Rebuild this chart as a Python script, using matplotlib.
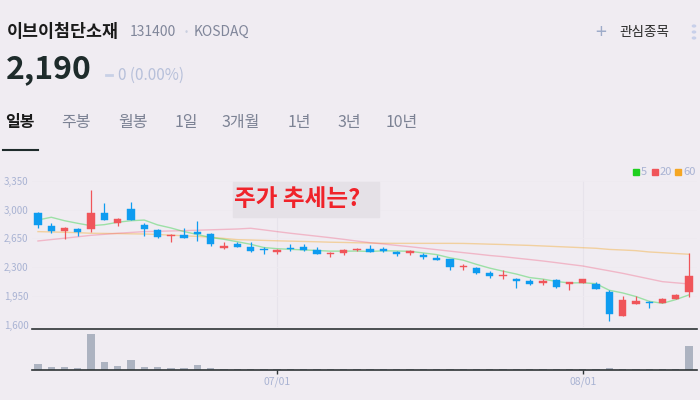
import matplotlib
matplotlib.use('Agg')
import matplotlib.pyplot as plt
from matplotlib.patches import Rectangle, Circle
from matplotlib.lines import Line2D

plt.rcParams['font.family'] = ['Noto Sans CJK KR', 'DejaVu Sans']

W, H = 700, 400
BG = '#f0ecf2'

# ---------------- data ----------------
opens = [2960, 2802, 2744, 2765, 2769, 2960, 2842, 3005, 2814, 2753,
         2680, 2692, 2725, 2704, 2530, 2582, 2542, 2518, 2489, 2533,
         2546, 2509, 2457, 2473, 2506, 2521, 2513, 2485, 2476, 2452,
         2412, 2396, 2302, 2290, 2229, 2189, 2160, 2135, 2103, 2144,
         2099, 2111, 2099, 1997, 1701, 1855, 1876, 1863, 1916, 2001]
highs = [2972, 2842, 2789, 2781, 3240, 3078, 2899, 3094, 2842, 2761,
         2704, 2774, 2859, 2712, 2603, 2607, 2603, 2542, 2521, 2582,
         2578, 2546, 2485, 2518, 2530, 2570, 2546, 2493, 2505, 2476,
         2445, 2403, 2342, 2298, 2250, 2269, 2168, 2160, 2156, 2152,
         2107, 2156, 2119, 2018, 1949, 1945, 1888, 1924, 1973, 2476]
lows = [2781, 2720, 2640, 2680, 2732, 2878, 2805, 2875, 2683, 2652,
        2607, 2652, 2623, 2562, 2521, 2542, 2489, 2460, 2457, 2501,
        2501, 2464, 2428, 2452, 2501, 2489, 2485, 2432, 2445, 2403,
        2383, 2269, 2262, 2217, 2172, 2160, 2042, 2083, 2083, 2050,
        2022, 2103, 2038, 1648, 1701, 1847, 1806, 1860, 1908, 1936]
closes = [2814, 2741, 2777, 2732, 2960, 2878, 2887, 2875, 2769, 2668,
          2692, 2659, 2704, 2582, 2558, 2549, 2501, 2506, 2513, 2518,
          2513, 2464, 2469, 2509, 2525, 2489, 2501, 2460, 2489, 2424,
          2391, 2306, 2314, 2233, 2196, 2204, 2135, 2099, 2135, 2058,
          2107, 2152, 2038, 1733, 1900, 1888, 1860, 1912, 1961, 2190]
volumes = [285, 150, 150, 100, 1800, 400, 200, 500, 150, 150,
           100, 100, 265, 100, 35, 35, 65, 65, 35, 65,
           65, 65, 35, 35, 35, 35, 35, 50, 35, 35,
           35, 50, 35, 50, 35, 35, 35, 35, 35, 35,
           35, 35, 35, 100, 50, 35, 35, 35, 35, 1200]
ma5 = [2875, 2908, 2866, 2834, 2805, 2818, 2847, 2866, 2874, 2815,
       2778, 2733, 2698, 2661, 2639, 2610, 2579, 2539, 2525, 2517,
       2510, 2503, 2495, 2495, 2496, 2491, 2499, 2497, 2493, 2473,
       2453, 2414, 2385, 2334, 2288, 2251, 2216, 2173, 2154, 2126,
       2107, 2110, 2098, 2018, 1986, 1942, 1884, 1859, 1904, 1962]
ma20 = [2619, 2636, 2653, 2670, 2688, 2700, 2713, 2723, 2733, 2737,
        2741, 2745, 2750, 2755, 2760, 2765, 2774, 2754, 2733, 2713,
        2695, 2677, 2659, 2639, 2618, 2598, 2582, 2565, 2549, 2531,
        2513, 2495, 2477, 2460, 2442, 2428, 2410, 2393, 2375, 2355,
        2334, 2314, 2284, 2255, 2225, 2191, 2157, 2123, 2109, 2095]
ma60 = [2733, 2729, 2725, 2720, 2713, 2711, 2709, 2706, 2704, 2698,
        2690, 2682, 2674, 2665, 2650, 2635, 2631, 2626, 2621, 2617,
        2613, 2609, 2604, 2601, 2597, 2594, 2591, 2590, 2590, 2590,
        2590, 2590, 2589, 2585, 2580, 2576, 2570, 2565, 2558, 2551,
        2544, 2537, 2530, 2516, 2509, 2501, 2485, 2476, 2466, 2457]
ytick_vals = [1600, 1950, 2300, 2650, 3000, 3350]
xtick_idx = [18, 41]
xtick_labels = ['07/01', '08/01']
tabs = ['일봉', '주봉', '월봉', '1일', '3개월', '1년', '3년', '10년']
tab_x = [5, 61, 118, 175, 222, 288, 337, 386]

UP = '#f0555a'
DOWN = '#0e9cf0'
LBL = '#a9b3d3'

fig = plt.figure(figsize=(W / 100, H / 100), dpi=100, facecolor=BG)


def fx(x):
    return x / W


def fy(y):
    return 1 - y / H


# ---------------- header ----------------
fig.text(fx(7), fy(32), '이브이첨단소재', fontsize=12.5, fontweight='bold',
         color='#1a1a1a', va='center', ha='left')
fig.text(fx(130), fy(32), '131400', fontsize=10, color='#80869a', va='center')
fig.text(fx(186), fy(32), '•', fontsize=7, color='#c9cfdf', va='center', ha='center')
fig.text(fx(194), fy(32), 'KOSDAQ', fontsize=10, color='#80869a', va='center')
fig.text(fx(6), fy(69), '2,190', fontsize=23, fontweight='bold',
         color='#1e2b2b', va='center')
fig.add_artist(Line2D([fx(106), fx(112)], [fy(75), fy(75)], color='#c8d0e6', lw=2))
fig.text(fx(118), fy(75), '0 (0.00%)', fontsize=11, color='#b7c0da', va='center')

fig.text(fx(601), fy(32), '+', fontsize=14, color='#9eabc9', va='center', ha='center')
fig.text(fx(619), fy(32), '관심종목', fontsize=9.8, color='#2a2a2a', va='center')
for yy in (26, 32, 38):
    fig.add_artist(Circle((fx(694), fy(yy)), 1.6 / W, color='#c8d0ea',
                          transform=fig.transFigure))

# ---------------- tabs ----------------
for i, (t, x) in enumerate(zip(tabs, tab_x)):
    fig.text(fx(x), fy(122), t, fontsize=11.5,
             fontweight='bold' if i == 0 else 'normal',
             color='#1a1a1a' if i == 0 else '#7c8294', va='center')
fig.add_artist(Line2D([fx(3), fx(38)], [fy(150), fy(150)], color='#1e2b2b', lw=1.5))

# ---------------- price axes ----------------
ax_left, ax_right = 32, 697
ax = fig.add_axes([fx(ax_left), fy(329), (ax_right - ax_left) / W, (329 - 165) / H])
ax.set_facecolor('none')
n = len(closes)
xs = list(range(n))
ax.set_xlim(-0.45, n - 1 + 0.6)
ax.set_ylim(1546, 3545)

for xi in xtick_idx:
    ax.axvline(xi, ymin=0.02, ymax=0.9, color='#e7e3eb', lw=0.8, zorder=0)
for yv in ytick_vals:
    ax.axhline(yv, color='#eeeaf0', lw=0.6, zorder=0)

ax.plot(xs, ma60, color='#f5a623', alpha=0.4, lw=1.0, zorder=1)
ax.plot(xs, ma20, color='#f0557a', alpha=0.35, lw=1.0, zorder=1)
ax.plot(xs, ma5, color='#36d24a', alpha=0.45, lw=1.0, zorder=1)

for i in range(n):
    o, h, l, c = opens[i], highs[i], lows[i], closes[i]
    col = UP if c >= o else DOWN
    ax.vlines(i, l, h, color=col, lw=0.9, zorder=2)
    bottom = min(o, c)
    height = max(abs(c - o), 16)
    ax.bar(i, height, bottom=bottom, width=0.55, color=col, edgecolor=col,
           lw=0.3, zorder=3)

ax.set_yticks(ytick_vals)
ax.set_yticklabels([f'{v:,}' for v in ytick_vals])
ax.tick_params(axis='y', length=0, pad=2.5, labelsize=7, labelcolor=LBL)
ax.set_xticks([])
for s in ax.spines.values():
    s.set_visible(False)

# ---------------- volume axes ----------------
vax = fig.add_axes([fx(ax_left), fy(370), (ax_right - ax_left) / W, (370 - 329.3) / H])
vax.set_facecolor('none')
vax.set_xlim(ax.get_xlim())
vax.set_ylim(0, 2035)
vax.bar(xs, volumes, width=0.55, color='#adb3c1', zorder=2)
vax.set_yticks([])
vax.set_xticks(xtick_idx)
vax.set_xticklabels(xtick_labels)
vax.tick_params(axis='x', length=3, width=1, color='#2e3436', pad=2,
                labelsize=7.5, labelcolor=LBL)
for k in ('left', 'right'):
    vax.spines[k].set_visible(False)
for k in ('top', 'bottom'):
    vax.spines[k].set_color('#2e3436')
    vax.spines[k].set_linewidth(1.2)

# ---------------- legend ----------------
for (x0, col, lab) in [(633, '#1fd01f', '5'), (652, '#f0555a', '20'), (675, '#f5a623', '60')]:
    fig.add_artist(Rectangle((fx(x0), fy(175)), 6 / W, 6 / H, color=col,
                             transform=fig.transFigure))
    fig.text(fx(x0 + 8), fy(172), lab, fontsize=8, color=LBL, va='center')

# ---------------- annotation ----------------
fig.add_artist(Rectangle((fx(232.7), fy(216.7)), (379 - 232.7) / W, 35 / H,
                         color='#e5e1e7', transform=fig.transFigure, zorder=5))
fig.text(fx(234), fy(199), '주가 추세는?', fontsize=17, fontweight='bold',
         color='#f0232a', va='center', ha='left', zorder=6)

fig.savefig('out.png', dpi=100, facecolor=BG)
